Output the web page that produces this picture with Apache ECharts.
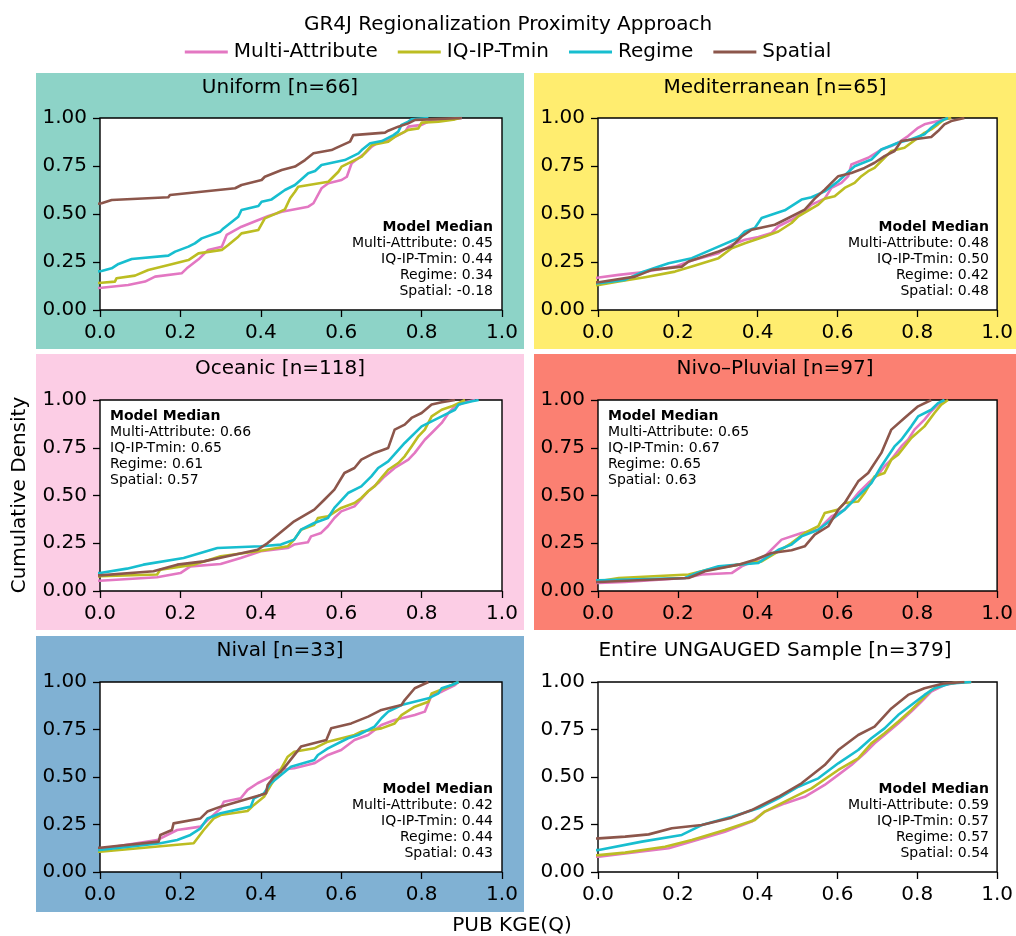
<!DOCTYPE html>
<html>
<head>
<meta charset="utf-8">
<script src="https://cdn.jsdelivr.net/npm/echarts@6/dist/echarts.min.js"></script>
<style>
  html, body { margin: 0; padding: 0; background: #fff; }
  #chart { width: 1016px; height: 936px; }
</style>
</head>
<body>
<div id="chart"></div>
<script>
// ---- Series names and colours ----
const seriesNames = ['Multi-Attribute', 'IQ-IP-Tmin', 'Regime', 'Spatial'];
const seriesColors = ['#e377c2', '#bcbd22', '#17becf', '#8c564b'];

// ---- Panel titles and region colours ----
const panelTitles = ['Uniform [n=66]', 'Mediterranean [n=65]', 'Oceanic [n=118]',
  'Nivo\u2013Pluvial [n=97]', 'Nival [n=33]', 'Entire UNGAUGED Sample [n=379]'];
const panelColors = ['#8dd3c7', '#ffed6f', '#fccde5', '#fb8072', '#80b1d3', null];

// ---- Median KGE per panel (Multi-Attribute, IQ-IP-Tmin, Regime, Spatial) ----
const medUniform = ['0.45', '0.44', '0.34', '-0.18'];
const medMediterranean = ['0.48', '0.50', '0.42', '0.48'];
const medOceanic = ['0.66', '0.65', '0.61', '0.57'];
const medNivoPluvial = ['0.65', '0.67', '0.65', '0.63'];
const medNival = ['0.42', '0.44', '0.44', '0.43'];
const medEntire = ['0.59', '0.57', '0.57', '0.54'];

// ---- Axis ticks ----
const xTicks = [0.0, 0.2, 0.4, 0.6, 0.8, 1.0];
const yTicks = [0.0, 0.25, 0.5, 0.75, 1.0];

// ---- Empirical CDFs: [PUB KGE(Q), cumulative density] ----
// Uniform
const uniformMA = [[-1.2,0.01],[-0.3,0.08],[0.004,0.116],[0.07,0.13],[0.112,0.148],[0.137,0.174],[0.203,0.191],[0.216,0.217],[0.245,0.264],[0.269,0.313],[0.303,0.33],[0.315,0.391],[0.352,0.434],[0.394,0.469],[0.419,0.49],[0.452,0.512],[0.518,0.538],[0.531,0.556],[0.551,0.634],[0.568,0.66],[0.601,0.677],[0.614,0.694],[0.626,0.764],[0.659,0.816],[0.676,0.851],[0.688,0.868],[0.726,0.894],[0.742,0.911],[0.759,0.929],[0.767,0.955],[0.8,0.964],[0.817,0.981],[0.858,0.99],[0.9,1.0]];
const uniformIQ = [[-1.2,0.01],[-0.3,0.1],[0.004,0.142],[0.037,0.148],[0.041,0.165],[0.087,0.179],[0.12,0.208],[0.178,0.238],[0.22,0.26],[0.245,0.295],[0.303,0.313],[0.319,0.339],[0.344,0.382],[0.352,0.399],[0.394,0.417],[0.41,0.477],[0.439,0.503],[0.46,0.524],[0.473,0.582],[0.485,0.616],[0.493,0.642],[0.568,0.668],[0.593,0.72],[0.601,0.747],[0.651,0.799],[0.676,0.859],[0.717,0.877],[0.734,0.903],[0.767,0.938],[0.792,0.946],[0.8,0.976],[0.842,0.981],[0.883,0.993],[0.896,1.0]];
const uniformRegime = [[-1.5,0.01],[-0.4,0.12],[0.004,0.203],[0.029,0.217],[0.046,0.24],[0.079,0.266],[0.17,0.283],[0.187,0.304],[0.22,0.33],[0.236,0.347],[0.253,0.373],[0.299,0.408],[0.307,0.425],[0.344,0.486],[0.352,0.521],[0.394,0.542],[0.402,0.564],[0.427,0.576],[0.46,0.625],[0.485,0.651],[0.518,0.712],[0.535,0.724],[0.551,0.755],[0.609,0.781],[0.643,0.816],[0.651,0.833],[0.672,0.868],[0.701,0.88],[0.73,0.911],[0.742,0.929],[0.75,0.964],[0.767,0.981],[0.775,0.993],[0.817,1.0]];
const uniformSpatial = [[-3.0,0.01],[-1.2,0.2],[-0.5,0.4],[-0.18,0.5],[0.004,0.556],[0.029,0.573],[0.17,0.587],[0.174,0.599],[0.336,0.634],[0.352,0.651],[0.402,0.677],[0.41,0.694],[0.452,0.729],[0.485,0.747],[0.51,0.781],[0.531,0.816],[0.576,0.833],[0.585,0.842],[0.622,0.877],[0.63,0.911],[0.709,0.924],[0.717,0.934],[0.742,0.955],[0.767,0.972],[0.784,0.99],[0.817,0.993],[0.9,1.0]];

// Mediterranean
const medMA = [[-1.0,0.01],[-0.3,0.1],[0.002,0.169],[0.052,0.183],[0.11,0.197],[0.193,0.226],[0.235,0.258],[0.302,0.296],[0.335,0.34],[0.368,0.366],[0.402,0.38],[0.435,0.401],[0.452,0.436],[0.485,0.47],[0.518,0.514],[0.535,0.549],[0.568,0.58],[0.585,0.636],[0.61,0.662],[0.627,0.697],[0.635,0.758],[0.677,0.793],[0.71,0.836],[0.735,0.854],[0.752,0.871],[0.777,0.906],[0.802,0.949],[0.818,0.967],[0.852,0.984],[0.868,0.993],[0.885,1.0]];
const medIQ = [[-1.0,0.01],[-0.3,0.08],[0.002,0.131],[0.052,0.148],[0.118,0.171],[0.193,0.2],[0.235,0.226],[0.302,0.27],[0.335,0.322],[0.368,0.348],[0.418,0.383],[0.452,0.409],[0.485,0.453],[0.502,0.488],[0.552,0.549],[0.568,0.58],[0.593,0.592],[0.618,0.636],[0.643,0.662],[0.66,0.697],[0.677,0.723],[0.693,0.74],[0.718,0.793],[0.735,0.828],[0.768,0.845],[0.785,0.871],[0.802,0.897],[0.818,0.923],[0.835,0.941],[0.852,0.967],[0.868,0.993],[0.885,1.0]];
const medRegime = [[-1.0,0.01],[-0.3,0.09],[0.002,0.139],[0.068,0.157],[0.11,0.197],[0.177,0.244],[0.235,0.27],[0.293,0.322],[0.352,0.375],[0.368,0.409],[0.393,0.427],[0.41,0.479],[0.468,0.519],[0.51,0.575],[0.535,0.587],[0.568,0.618],[0.602,0.671],[0.643,0.749],[0.685,0.784],[0.71,0.836],[0.752,0.871],[0.785,0.889],[0.818,0.915],[0.835,0.949],[0.852,0.976],[0.868,0.993],[0.877,1.0]];
const medSpatial = [[-1.0,0.01],[-0.3,0.09],[0.002,0.145],[0.093,0.174],[0.135,0.209],[0.21,0.226],[0.227,0.253],[0.302,0.305],[0.335,0.331],[0.36,0.383],[0.385,0.418],[0.443,0.444],[0.477,0.479],[0.518,0.523],[0.543,0.58],[0.568,0.627],[0.602,0.697],[0.635,0.714],[0.668,0.74],[0.693,0.767],[0.718,0.801],[0.743,0.828],[0.76,0.88],[0.835,0.901],[0.852,0.932],[0.868,0.967],[0.885,0.984],[0.918,1.0]];

// Oceanic
const oceMA = [[-0.8,0.01],[0.0,0.054],[0.142,0.072],[0.2,0.094],[0.225,0.129],[0.3,0.141],[0.35,0.173],[0.4,0.208],[0.467,0.225],[0.483,0.243],[0.517,0.255],[0.525,0.286],[0.55,0.304],[0.567,0.339],[0.583,0.382],[0.6,0.417],[0.633,0.443],[0.65,0.482],[0.667,0.522],[0.692,0.565],[0.708,0.6],[0.733,0.644],[0.767,0.688],[0.783,0.723],[0.808,0.792],[0.825,0.827],[0.85,0.88],[0.867,0.932],[0.883,0.967],[0.908,0.988],[0.933,1.0]];
const oceIQ = [[-0.8,0.01],[0.0,0.077],[0.142,0.086],[0.15,0.112],[0.233,0.138],[0.3,0.182],[0.392,0.208],[0.467,0.234],[0.483,0.269],[0.5,0.321],[0.533,0.347],[0.542,0.382],[0.567,0.391],[0.6,0.435],[0.633,0.461],[0.65,0.487],[0.667,0.522],[0.683,0.548],[0.7,0.592],[0.717,0.635],[0.742,0.67],[0.758,0.705],[0.775,0.757],[0.792,0.81],[0.808,0.845],[0.825,0.914],[0.85,0.949],[0.875,0.967],[0.892,0.984],[0.908,1.0]];
const oceRegime = [[-0.8,0.01],[0.0,0.094],[0.067,0.117],[0.108,0.138],[0.208,0.173],[0.292,0.225],[0.4,0.234],[0.45,0.243],[0.483,0.269],[0.5,0.321],[0.533,0.356],[0.567,0.382],[0.583,0.435],[0.617,0.513],[0.65,0.548],[0.675,0.6],[0.692,0.644],[0.717,0.679],[0.758,0.775],[0.8,0.862],[0.825,0.888],[0.85,0.914],[0.883,0.949],[0.892,0.976],[0.925,0.993],[0.942,1.0]];
const oceSpatial = [[-0.8,0.01],[0.0,0.082],[0.133,0.103],[0.192,0.138],[0.258,0.155],[0.317,0.182],[0.392,0.216],[0.417,0.251],[0.442,0.295],[0.483,0.365],[0.533,0.426],[0.558,0.478],[0.583,0.531],[0.608,0.618],[0.633,0.644],[0.65,0.688],[0.683,0.723],[0.717,0.749],[0.733,0.845],[0.758,0.871],[0.775,0.906],[0.8,0.932],[0.825,0.976],[0.85,0.988],[0.883,1.0]];

// Nivo-Pluvial
const npMA = [[-0.8,0.01],[0.002,0.042],[0.068,0.047],[0.218,0.068],[0.26,0.086],[0.335,0.094],[0.36,0.129],[0.418,0.182],[0.46,0.269],[0.51,0.304],[0.552,0.321],[0.585,0.391],[0.618,0.426],[0.652,0.513],[0.677,0.565],[0.702,0.609],[0.718,0.653],[0.735,0.688],[0.76,0.757],[0.777,0.792],[0.793,0.845],[0.818,0.897],[0.835,0.941],[0.852,0.976],[0.868,1.0]];
const npIQ = [[-0.8,0.01],[0.002,0.051],[0.052,0.068],[0.227,0.086],[0.277,0.112],[0.352,0.138],[0.41,0.155],[0.452,0.208],[0.485,0.251],[0.518,0.304],[0.552,0.339],[0.568,0.408],[0.602,0.426],[0.618,0.461],[0.652,0.469],[0.668,0.513],[0.693,0.6],[0.718,0.618],[0.735,0.688],[0.752,0.714],[0.785,0.801],[0.818,0.862],[0.843,0.932],[0.86,0.976],[0.877,1.0]];
const npRegime = [[-0.8,0.01],[0.002,0.056],[0.218,0.068],[0.252,0.098],[0.302,0.129],[0.352,0.138],[0.402,0.147],[0.427,0.182],[0.452,0.216],[0.485,0.243],[0.51,0.286],[0.552,0.321],[0.585,0.373],[0.618,0.426],[0.643,0.478],[0.66,0.513],[0.685,0.565],[0.71,0.653],[0.727,0.707],[0.743,0.757],[0.76,0.792],[0.785,0.862],[0.802,0.914],[0.835,0.949],[0.852,0.984],[0.868,1.0]];
const npSpatial = [[-0.8,0.01],[0.002,0.047],[0.227,0.068],[0.268,0.103],[0.352,0.138],[0.393,0.164],[0.435,0.199],[0.485,0.213],[0.518,0.234],[0.543,0.295],[0.577,0.339],[0.602,0.426],[0.618,0.461],[0.652,0.574],[0.677,0.618],[0.71,0.723],[0.735,0.845],[0.768,0.906],[0.802,0.967],[0.835,1.0]];

// Nival
const nivMA = [[-0.8,0.01],[0.0,0.121],[0.142,0.168],[0.192,0.221],[0.25,0.239],[0.3,0.335],[0.308,0.37],[0.35,0.388],[0.367,0.432],[0.392,0.467],[0.425,0.502],[0.442,0.537],[0.483,0.546],[0.533,0.572],[0.567,0.616],[0.6,0.642],[0.633,0.695],[0.667,0.721],[0.7,0.774],[0.733,0.8],[0.783,0.826],[0.808,0.844],[0.825,0.932],[0.85,0.949],[0.883,0.984],[0.892,1.0]];
const nivIQ = [[-0.8,0.01],[0.0,0.107],[0.233,0.151],[0.258,0.221],[0.283,0.282],[0.3,0.3],[0.367,0.321],[0.383,0.353],[0.408,0.396],[0.425,0.458],[0.442,0.511],[0.467,0.607],[0.483,0.633],[0.533,0.651],[0.567,0.686],[0.633,0.721],[0.65,0.739],[0.7,0.756],[0.733,0.782],[0.75,0.826],[0.783,0.87],[0.817,0.896],[0.825,0.94],[0.858,0.967],[0.875,0.984],[0.892,1.0]];
const nivRegime = [[-0.8,0.01],[0.0,0.116],[0.15,0.151],[0.192,0.168],[0.225,0.195],[0.25,0.23],[0.267,0.282],[0.3,0.309],[0.375,0.344],[0.383,0.388],[0.408,0.414],[0.425,0.467],[0.45,0.511],[0.475,0.554],[0.533,0.589],[0.542,0.616],[0.567,0.651],[0.617,0.704],[0.642,0.721],[0.683,0.765],[0.7,0.809],[0.717,0.844],[0.75,0.879],[0.817,0.914],[0.842,0.94],[0.85,0.967],[0.875,0.984],[0.892,1.0]];
const nivSpatial = [[-0.8,0.01],[0.0,0.128],[0.146,0.16],[0.15,0.195],[0.179,0.221],[0.183,0.256],[0.25,0.282],[0.267,0.318],[0.3,0.344],[0.4,0.405],[0.413,0.414],[0.417,0.458],[0.433,0.502],[0.45,0.528],[0.467,0.572],[0.5,0.66],[0.563,0.695],[0.575,0.756],[0.625,0.782],[0.667,0.818],[0.7,0.853],[0.75,0.879],[0.758,0.905],[0.783,0.967],[0.817,1.0]];

// Entire ungauged sample
const allMA = [[-1.0,0.01],[-0.3,0.05],[0.002,0.081],[0.068,0.098],[0.177,0.125],[0.235,0.16],[0.318,0.212],[0.385,0.265],[0.418,0.318],[0.468,0.361],[0.518,0.396],[0.568,0.458],[0.602,0.511],[0.635,0.563],[0.668,0.625],[0.693,0.677],[0.718,0.721],[0.752,0.782],[0.785,0.844],[0.81,0.896],[0.835,0.949],[0.868,0.984],[0.902,0.998],[0.935,1.0]];
const allIQ = [[-1.0,0.01],[-0.3,0.06],[0.002,0.089],[0.068,0.102],[0.168,0.133],[0.235,0.168],[0.318,0.221],[0.393,0.274],[0.418,0.318],[0.468,0.37],[0.535,0.44],[0.602,0.537],[0.652,0.598],[0.685,0.677],[0.718,0.73],[0.752,0.791],[0.785,0.853],[0.81,0.905],[0.835,0.958],[0.868,0.988],[0.902,0.998],[0.935,1.0]];
const allRegime = [[-1.2,0.01],[-0.3,0.08],[0.002,0.116],[0.11,0.16],[0.21,0.195],[0.26,0.247],[0.335,0.291],[0.402,0.335],[0.452,0.388],[0.502,0.449],[0.552,0.493],[0.602,0.572],[0.652,0.642],[0.685,0.704],[0.718,0.756],[0.752,0.826],[0.785,0.879],[0.818,0.932],[0.843,0.967],[0.885,0.993],[0.935,1.0]];
const allSpatial = [[-2.0,0.01],[-0.5,0.12],[0.002,0.177],[0.068,0.186],[0.127,0.198],[0.185,0.23],[0.26,0.247],[0.335,0.286],[0.385,0.326],[0.452,0.396],[0.51,0.467],[0.568,0.563],[0.602,0.642],[0.652,0.721],[0.693,0.765],[0.735,0.861],[0.777,0.932],[0.818,0.967],[0.868,0.993],[0.918,1.0]];

// ---- Panel assembly ----
const panelCurves = [
  [uniformMA, uniformIQ, uniformRegime, uniformSpatial],
  [medMA, medIQ, medRegime, medSpatial],
  [oceMA, oceIQ, oceRegime, oceSpatial],
  [npMA, npIQ, npRegime, npSpatial],
  [nivMA, nivIQ, nivRegime, nivSpatial],
  [allMA, allIQ, allRegime, allSpatial]
];
const panelMedians = [medUniform, medMediterranean, medOceanic, medNivoPluvial, medNival, medEntire];
// where the median box sits inside each axes: 'br' bottom-right, 'tl' top-left
const panelNote = ['br', 'br', 'tl', 'tl', 'br', 'br'];

// ---- Layout (pixels) ----
const FONT = 'DejaVu Sans';
const plotLeft = [100, 598], plotWidth = [402, 400];
const plotTop = [118, 400, 682], plotHeight = [192, 191, 190];
const bgLeft = [36, 534], bgWidth = [488, 482];
const bgTop = [73, 354, 636], bgHeight = 276;

const grids = [], xAxes = [], yAxes = [], series = [], graphics = [];

for (let p = 0; p < 6; p++) {
  const col = p % 2, row = Math.floor(p / 2);
  const gl = plotLeft[col], gw = plotWidth[col], gt = plotTop[row], gh = plotHeight[row];

  if (panelColors[p]) {
    graphics.push({
      type: 'rect', z: -10, silent: true,
      shape: { x: bgLeft[col], y: bgTop[row], width: bgWidth[col], height: bgHeight },
      style: { fill: panelColors[p] }
    });
  }
  graphics.push({
    type: 'text', silent: true,
    style: {
      text: panelTitles[p], x: bgLeft[col] + bgWidth[col] / 2, y: bgTop[row] + 15,
      textAlign: 'center', textVerticalAlign: 'middle',
      font: '20px "' + FONT + '"', fill: '#000'
    }
  });

  // median note
  const lines = ['Model Median'].concat(seriesNames.map((n, i) => n + ': ' + panelMedians[p][i]));
  lines.forEach((t, i) => {
    const right = panelNote[p] === 'br';
    const x = right ? gl + gw - 9 : gl + 10;
    const y = right ? gt + gh - 83 + i * 16 : gt + 16 + i * 16;
    graphics.push({
      type: 'text', silent: true, z: 10,
      style: {
        text: t, x: x, y: y,
        textAlign: right ? 'right' : 'left', textVerticalAlign: 'middle',
        font: (i === 0 ? 'bold ' : '') + '14px "' + FONT + '"', fill: '#000'
      }
    });
  });

  grids.push({
    left: gl, top: gt, width: gw, height: gh,
    show: true, backgroundColor: '#fff', borderColor: '#000', borderWidth: 1.4
  });
  xAxes.push({
    type: 'value', gridIndex: p, min: xTicks[0], max: xTicks[xTicks.length - 1], interval: 0.2,
    axisLine: { show: false }, splitLine: { show: false },
    axisTick: { show: true, length: 7, lineStyle: { color: '#000', width: 1.3 } },
    axisLabel: { color: '#000', fontSize: 20, fontFamily: FONT, margin: 13,
      formatter: v => v.toFixed(1) }
  });
  yAxes.push({
    type: 'value', gridIndex: p, min: yTicks[0], max: yTicks[yTicks.length - 1], interval: 0.25,
    axisLine: { show: false }, splitLine: { show: false },
    axisTick: { show: true, length: 7, lineStyle: { color: '#000', width: 1.3 } },
    axisLabel: { color: '#000', fontSize: 20, fontFamily: FONT, margin: 13,
      formatter: v => v.toFixed(2) }
  });
  panelCurves[p].forEach((data, s) => {
    series.push({
      type: 'line', name: seriesNames[s], xAxisIndex: p, yAxisIndex: p,
      data: data, symbol: 'none', clip: true, animation: false,
      lineStyle: { color: seriesColors[s], width: 2.6, join: 'round' },
      itemStyle: { color: seriesColors[s] }
    });
  });
}

// axis titles shared by all panels
graphics.push({
  type: 'text', silent: true,
  style: { text: 'Cumulative Density', x: 20, y: 495, textAlign: 'center', textVerticalAlign: 'middle',
    font: '20px "' + FONT + '"', fill: '#000' },
  rotation: Math.PI / 2, originX: 20, originY: 495
});
graphics.push({
  type: 'text', silent: true,
  style: { text: 'PUB KGE(Q)', x: 512, y: 926, textAlign: 'center', textVerticalAlign: 'middle',
    font: '20px "' + FONT + '"', fill: '#000' }
});

const chart = echarts.init(document.getElementById('chart'), null, { renderer: 'canvas' });
chart.setOption({
  backgroundColor: '#fff',
  animation: false,
  title: {
    text: 'GR4J Regionalization Proximity Approach', left: 'center', top: 10,
    textStyle: { fontSize: 20, fontWeight: 'normal', color: '#000', fontFamily: FONT }
  },
  legend: {
    data: seriesNames, top: 37, left: 'center',
    icon: 'rect', itemWidth: 43, itemHeight: 3, itemGap: 20,
    textStyle: { fontSize: 20, color: '#000', fontFamily: FONT, padding: [0, 0, 0, 1] }
  },
  grid: grids,
  xAxis: xAxes,
  yAxis: yAxes,
  series: series,
  graphic: graphics
});
</script>
</body>
</html>
